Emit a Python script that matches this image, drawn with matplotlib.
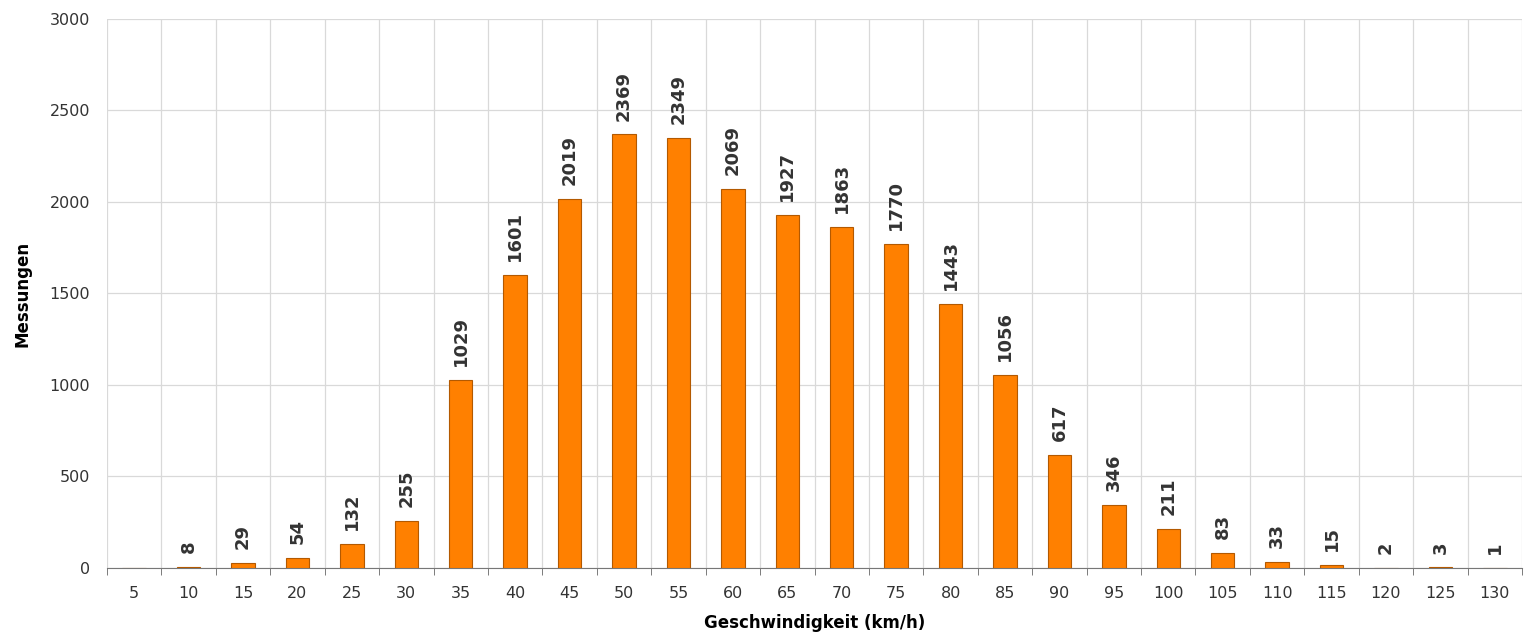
import numpy as np
import matplotlib.pyplot as plt

speeds = [5, 10, 15, 20, 25, 30, 35, 40, 45, 50, 55, 60, 65, 70, 75, 80, 85, 90, 95, 100, 105, 110, 115, 120, 125, 130]
counts = [0, 8, 29, 54, 132, 255, 1029, 1601, 2019, 2369, 2349, 2069, 1927, 1863, 1770, 1443, 1056, 617, 346, 211, 83, 33, 15, 2, 3, 1]

fig = plt.figure(figsize=(15.24, 6.33), dpi=100)
ax = fig.add_axes([0.0702, 0.1027, 0.9285, 0.8673])

x = np.arange(len(speeds))
ax.bar(x, counts, width=0.43, color='#ff8000', edgecolor='#b35900', linewidth=0.8, zorder=3)

for xi, c in zip(x, counts):
    if c > 0:
        ax.annotate(str(c), (xi, c), xytext=(0, 10), textcoords='offset points',
                    rotation=90, ha='center', va='bottom', fontsize=13,
                    fontweight='bold', color='#333333')

ax.set_xlim(-0.5, len(speeds) - 0.5)
ax.set_ylim(0, 3000)
ax.set_yticks(range(0, 3001, 500))

ax.set_xticks(x)
ax.set_xticklabels([str(s) for s in speeds])
ax.set_xticks(np.arange(-0.5, len(speeds), 1), minor=True)
ax.tick_params(axis='x', which='major', length=0, pad=13, labelsize=11.5, labelcolor='#333333')
ax.tick_params(axis='x', which='minor', length=5, color='#666666')
ax.tick_params(axis='y', length=0, pad=12, labelsize=11.5, labelcolor='#333333')

ax.grid(axis='y', color='#d9d9d9', linewidth=0.9, zorder=0)
ax.grid(axis='x', which='minor', color='#d9d9d9', linewidth=0.9, zorder=0)

for s in ['top', 'right', 'left']:
    ax.spines[s].set_visible(False)
ax.spines['bottom'].set_color('#777777')

ax.set_xlabel('Geschwindigkeit (km/h)', fontsize=12, fontweight='bold', labelpad=9)
ax.set_ylabel('Messungen', fontsize=12, fontweight='bold', labelpad=13)

fig.savefig('out.png', dpi=100)
